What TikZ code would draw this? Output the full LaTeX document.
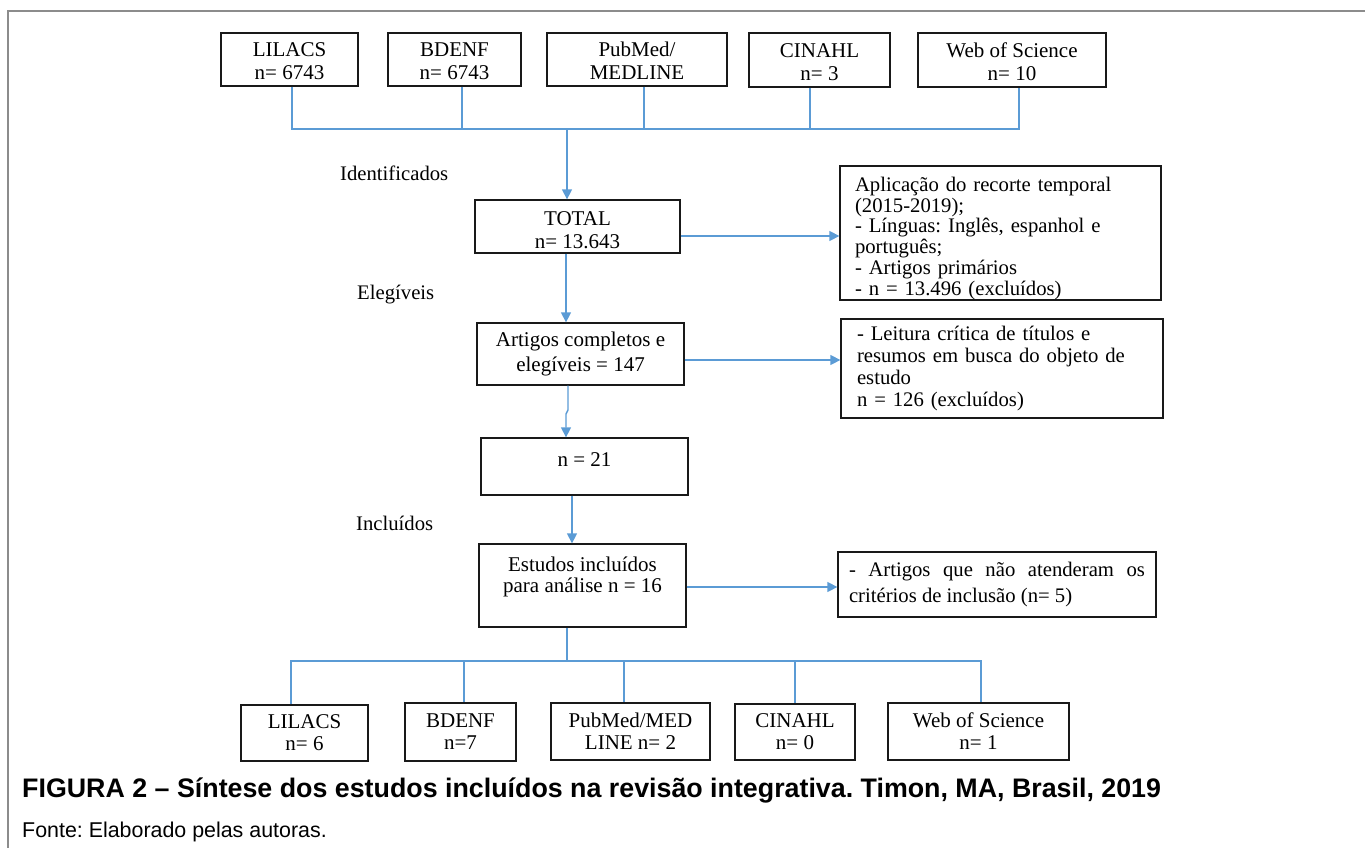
\documentclass[tikz,border=0pt]{standalone}
\usepackage{fontspec}
\setmainfont{Liberation Serif}
\newfontfamily\capfont{Liberation Sans}
\usepackage{xcolor}
\usepackage{tikz}
\usetikzlibrary{arrows, arrows.meta}

\definecolor{linkblue}{RGB}{91,155,213}
\definecolor{framegray}{RGB}{140,140,140}

\tikzset{
  dbbox/.style={draw=black!90, line width=1.3pt, inner sep=0pt, align=center,
    font=\fontsize{21}{23}\selectfont},
  notebox/.style={draw=black!90, line width=1.3pt, inner xsep=15pt, inner ysep=0pt, align=left,
    font=\fontsize{20.7}{20.8}\selectfont},
  stage/.style={anchor=west, inner sep=0pt, font=\fontsize{20.7}{23}\selectfont},
  link/.style={linkblue, line width=1.4pt},
  linkarrow/.style={link, -{Triangle[length=10pt,width=10pt]}},
}

\begin{document}
\frenchspacing
\begin{tikzpicture}[x=1pt, y=-1pt]
\useasboundingbox (0,0) rectangle (1365,848);
\draw[framegray, line width=1.5pt] (8,848) -- (8,11) -- (1365,11);
%\draw[step=50pt,gray,very thin] (0,0) grid (1365,848);

% bases de dados
\node[dbbox, minimum width=137, minimum height=53] (lilacsA) at (289.5,59.5) {\rule{0pt}{18pt}LILACS\\n= 6743};
\node[dbbox, minimum width=133, minimum height=53] (bdenfA) at (454.5,59.5) {\rule{0pt}{18pt}BDENF\\n= 6743};
\node[dbbox, minimum width=180, minimum height=53] (pubmedA) at (637,59.5) {\rule{0pt}{18pt}PubMed/\\MEDLINE};
\node[dbbox, minimum width=141, minimum height=54] (cinahlA) at (819.5,60) {\rule{0pt}{18pt}CINAHL\\n= 3};
\node[dbbox, minimum width=188, minimum height=54] (wosA) at (1012,60) {\rule{0pt}{18pt}Web of Science\\n= 10};

\coordinate (busA) at (567,129);
\coordinate (busAl) at (292,129);
\coordinate (busAr) at (1019,129);
\draw[link] (busAl |- lilacsA.south) -- (busAl) -- (busAr) -- (busAr |- wosA.south);
\draw[link] (bdenfA.south -| 462,0) -- (462,129);
\draw[link] (pubmedA.south -| 644,0) -- (644,129);
\draw[link] (cinahlA.south -| 810,0) -- (810,129);

\node[stage] (ident) at (340,173) {Identificados};
\node[stage] (eleg) at (357,295) {Elegíveis};
\node[stage] (incl) at (356,523) {Incluídos};

% fluxo central
\node[dbbox, minimum width=205, minimum height=53] (total) at (577.5,226.5) {\rule{0pt}{21pt}TOTAL\\n= 13.643};
\node[dbbox, minimum width=207, minimum height=62, font=\fontsize{21}{25}\selectfont] (artigos) at (580.5,354) {Artigos completos e\\elegíveis = 147};
\node[dbbox, minimum width=207, minimum height=57, font=\fontsize{21}{13}\selectfont] (n21) at (584.5,466.5) {n = 21\\\mbox{}};
\node[dbbox, minimum width=207, minimum height=83, font=\fontsize{21}{21}\selectfont] (estudos) at (582.5,585.5) {Estudos incluídos\\para análise n = 16\\\mbox{}};

% exclusoes
\node[notebox, text width=291, minimum height=134] (excA) at (1000.5,233) {\rule{0pt}{25pt}Aplicação do recorte temporal\\(2015-2019);\\- Línguas: Inglês, espanhol e\\português;\\- Artigos primários\\- n = 13.496 (excluídos)};
\node[notebox, inner xsep=16pt, text width=290, minimum height=99, font=\fontsize{20.7}{22}\selectfont] (excB) at (1002,368.5) {- Leitura crítica de títulos e\\resumos em busca do objeto de\\estudo\\n = 126 (excluídos)};
\node[notebox, inner xsep=8pt, text width=296, minimum width=318, minimum height=65, align=justify, font=\fontsize{20.7}{26}\selectfont] (excC) at (997,584.5) {- Artigos que não atenderam os\linebreak critérios de inclusão (n= 5)};

\draw[linkarrow] (busA) -- (busA |- total.north);
\draw[linkarrow] (total.south -| 566,0) -- (artigos.north -| 566,0);
\draw[linkarrow] (artigos.south -| 568,0) -- (568,410) -- (566,414) -- (n21.north -| 566,0);
\draw[linkarrow] (n21.south -| 572,0) -- (estudos.north -| 572,0);
\draw[linkarrow] (total.east |- 0,236) -- (excA.west |- 0,236);
\draw[linkarrow] (artigos.east |- 0,360) -- (excB.west |- 0,360);
\draw[linkarrow] (estudos.east |- 0,587) -- (excC.west |- 0,587);

% bases incluidas
\node[dbbox, minimum width=127, minimum height=56, font=\fontsize{21}{22}\selectfont] (lilacsB) at (304.5,733) {LILACS\\n= 6};
\node[dbbox, minimum width=111, minimum height=58, font=\fontsize{21}{22}\selectfont] (bdenfB) at (460.5,732) {BDENF\\n=7};
\node[dbbox, minimum width=159, minimum height=57, font=\fontsize{21}{22}\selectfont] (pubmedB) at (630.5,731.5) {PubMed/MED\\LINE n= 2};
\node[dbbox, minimum width=120, minimum height=56, font=\fontsize{21}{22}\selectfont] (cinahlB) at (795,732) {CINAHL\\n= 0};
\node[dbbox, minimum width=181, minimum height=57, font=\fontsize{21}{22}\selectfont] (wosB) at (978.5,731.5) {Web of Science\\n= 1};

\coordinate (busB) at (567,661);
\draw[link] (estudos.south -| busB) -- (busB);
\draw[link] (lilacsB.north -| 291,0) -- (291,661) -- (981,661) -- (wosB.north -| 981,0);
\draw[link] (464,661) -- (bdenfB.north -| 464,0);
\draw[link] (624,661) -- (pubmedB.north -| 624,0);
\draw[link] (795,661) -- (cinahlB.north);

\node[anchor=base west, inner sep=0pt, font=\capfont\bfseries\fontsize{26.8}{28}\selectfont] (titulo) at (22,797) {FIGURA 2 – Síntese dos estudos incluídos na revisão integrativa. Timon, MA, Brasil, 2019};
\node[anchor=base west, inner sep=0pt, font=\capfont\fontsize{21.4}{24}\selectfont] (fonte) at (22,837) {Fonte: Elaborado pelas autoras.};
\end{tikzpicture}
\end{document}
